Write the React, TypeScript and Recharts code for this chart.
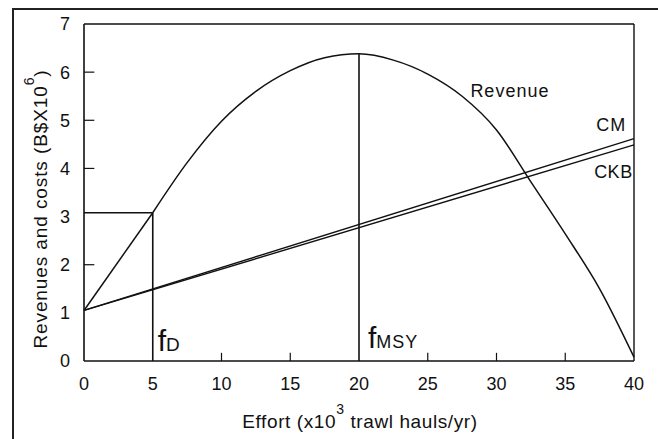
import { LineChart, Line, XAxis, YAxis, ReferenceLine, ReferenceDot } from 'recharts';

const FONT = "'Liberation Sans', Arial, Helvetica, sans-serif";
const INK = '#111';

// effort in x10^3 trawl hauls/yr, money in B$ x10^6
const revenueEffort = [0, 5, 7.5, 10, 12.5, 15, 17.5, 20, 22.5, 25, 27.5, 30, 32.5, 35, 37.5, 40];
const revenueValues = [1.05, 3.08, 4.12, 4.98, 5.6, 6.03, 6.3, 6.38, 6.25, 5.96, 5.5, 4.8, 3.72, 2.64, 1.5, 0.08];

const costEffort = [0, 40];
const cmValues = [1.05, 4.62];
const ckbValues = [1.05, 4.49];

const xTicks = [0, 5, 10, 15, 20, 25, 30, 35, 40];
const yTicks = [0, 1, 2, 3, 4, 5, 6, 7];
const innerXTicks = [10, 15, 25, 30, 35];
const innerYTicks = [2, 4, 5, 6];

const fD = 5;
const fMSY = 20;

const revenueData = revenueEffort.map((e, i) => ({ effort: e, value: revenueValues[i] }));
// straight rise up to f_D, then the curved part
const revenueStart = revenueData.filter((d) => d.effort <= fD);
const revenueCurve = revenueData.filter((d) => d.effort >= fD);
const cmData = costEffort.map((e, i) => ({ effort: e, value: cmValues[i] }));
const ckbData = costEffort.map((e, i) => ({ effort: e, value: ckbValues[i] }));

const revAt = (e: number) => revenueValues[revenueEffort.indexOf(e)];

const note = (key: string, x: number, y: number, render: (cx: number, cy: number) => any) => (
  <ReferenceDot
    key={key}
    x={x}
    y={y}
    r={0}
    fill="none"
    stroke="none"
    ifOverflow="visible"
    label={(p: any) => render(p.viewBox.x, p.viewBox.y)}
  />
);

const textStyle = { fontFamily: FONT, fill: INK };

export default function App() {
  return (
    <div style={{ position: 'absolute', left: 0, top: 0, width: 658, height: 439, background: '#fff', overflow: 'hidden' }}>
      <div
        style={{
          position: 'absolute',
          left: 12,
          top: 8,
          width: 660,
          height: 440,
          borderTop: '2px solid #222',
          borderLeft: '2px solid #222',
        }}
      />
      <LineChart width={658} height={439} margin={{ top: 24, right: 24, bottom: 38, left: 24 }}>
        <XAxis
          dataKey="effort"
          type="number"
          domain={[0, 40]}
          ticks={xTicks}
          tickSize={0}
          tickMargin={16}
          height={40}
          axisLine={{ stroke: INK, strokeWidth: 1.6 }}
          tick={{ fontSize: 18, fill: INK, fontFamily: FONT }}
          label={() => (
            <text x={360} y={428} textAnchor="middle" fontSize={19} letterSpacing={0.6} {...textStyle}>
              Effort (x10
              <tspan dy={-14} fontSize={14}>3</tspan>
              <tspan dy={14}> trawl hauls/yr)</tspan>
            </text>
          )}
        />
        <YAxis
          type="number"
          domain={[0, 7]}
          ticks={yTicks}
          width={60}
          tickSize={0}
          tickMargin={14}
          axisLine={{ stroke: INK, strokeWidth: 1.6 }}
          tick={{ fontSize: 18, fill: INK, fontFamily: FONT }}
          label={() => (
            <text
              x={47}
              y={209}
              transform="rotate(-90 47 209)"
              textAnchor="middle"
              fontSize={19}
              letterSpacing={0.9}
              {...textStyle}
            >
              Revenues and costs (B$X10
              <tspan dy={-13} fontSize={14}>6</tspan>
              <tspan dy={13}>)</tspan>
            </text>
          )}
        />

        <ReferenceLine y={7} stroke={INK} strokeWidth={1.4} />
        <ReferenceLine x={40} stroke={INK} strokeWidth={1.4} />

        <ReferenceLine segment={[{ x: 0, y: revAt(fD) }, { x: fD, y: revAt(fD) }]} stroke={INK} strokeWidth={1.4} />
        <ReferenceLine segment={[{ x: fD, y: 0 }, { x: fD, y: revAt(fD) }]} stroke={INK} strokeWidth={1.6} />
        <ReferenceLine segment={[{ x: fMSY, y: 0 }, { x: fMSY, y: revAt(fMSY) }]} stroke={INK} strokeWidth={1.6} />

        {innerXTicks.map((v) => (
          <ReferenceLine key={`xt${v}`} segment={[{ x: v, y: 0 }, { x: v, y: 0.17 }]} stroke={INK} strokeWidth={1.2} />
        ))}
        {innerYTicks.map((v) => (
          <ReferenceLine key={`yt${v}`} segment={[{ x: 0, y: v }, { x: 0.75, y: v }]} stroke={INK} strokeWidth={1.2} />
        ))}

        <Line data={cmData} dataKey="value" type="linear" stroke={INK} strokeWidth={1.4} dot={false} isAnimationActive={false} />
        <Line data={ckbData} dataKey="value" type="linear" stroke={INK} strokeWidth={1.4} dot={false} isAnimationActive={false} />
        <Line data={revenueStart} dataKey="value" type="linear" stroke={INK} strokeWidth={1.5} dot={false} isAnimationActive={false} />
        <Line data={revenueCurve} dataKey="value" type="monotone" stroke={INK} strokeWidth={1.5} dot={false} isAnimationActive={false} />

        {note('rev', 28.1, 5.48, (x, y) => (
          <text x={x} y={y} fontSize={18} letterSpacing={1} {...textStyle}>Revenue</text>
        ))}
        {note('cm', 37.25, 4.78, (x, y) => (
          <text x={x} y={y} fontSize={18} letterSpacing={1} {...textStyle}>CM</text>
        ))}
        {note('ckb', 37.1, 3.8, (x, y) => (
          <text x={x} y={y} fontSize={18} letterSpacing={0.5} {...textStyle}>CKB</text>
        ))}
        {note('fd', fD, 0, (x, y) => (
          <text x={x + 5} y={y - 10} {...textStyle}>
            <tspan fontSize={30}>f</tspan>
            <tspan fontSize={19}>D</tspan>
          </text>
        ))}
        {note('fmsy', fMSY, 0, (x, y) => (
          <text x={x + 9} y={y - 13} {...textStyle}>
            <tspan fontSize={30}>f</tspan>
            <tspan fontSize={18} letterSpacing={1}>MSY</tspan>
          </text>
        ))}
      </LineChart>
    </div>
  );
}
